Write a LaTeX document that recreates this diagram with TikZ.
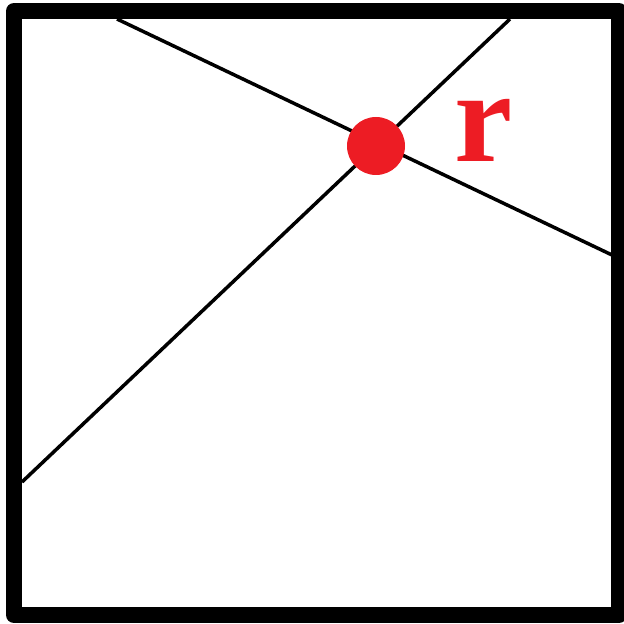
\documentclass[tikz,border=0pt]{standalone}
\usepackage{fontspec}
\newfontfamily\labelfont{Liberation Serif}
\usepackage{tikz}
\usetikzlibrary{positioning,calc}
\usepackage{xcolor}
\definecolor{paintred}{HTML}{ED1C24}
\tikzset{
frame/.style={draw=black,line width=16*0.03cm,line join=round},
cutline/.style={draw=black,line width=3.5*0.03cm},
meetdot/.style={circle,fill=paintred,inner sep=0pt,minimum size=58*0.03cm},
dotlabel/.style={text=paintred,font=\labelfont\fontsize{112}{112}\selectfont\bfseries,inner sep=0pt}
}
\begin{document}
\begin{tikzpicture}[x=0.03cm,y=-0.03cm]
\useasboundingbox (0,0) rectangle (623,624);
\draw[frame] (14,11) rectangle (619,615);
% end points of the two lines on the inner edge
\coordinate (a1) at (117,19);
\coordinate (a2) at (612,255);
\coordinate (b1) at (22,482);
\coordinate (b2) at (510,19);
\draw[cutline] (a1) -- (a2);
\draw[cutline] (b1) -- (b2);
\node[meetdot] (r) at (376,146) {};
\node[dotlabel,anchor=base] (rl) at (484,162) {r};
\end{tikzpicture}
\end{document}
